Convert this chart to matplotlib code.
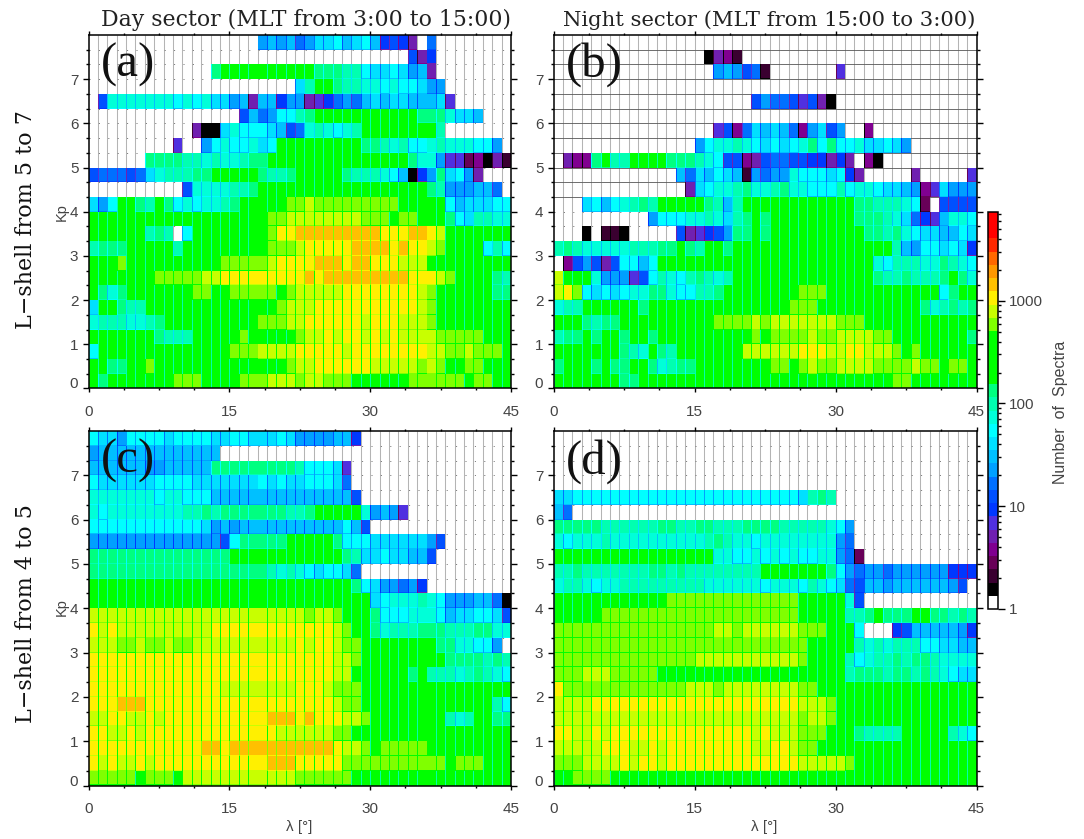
import numpy as np
import matplotlib
matplotlib.use('Agg')
import matplotlib.pyplot as plt
import matplotlib.colors as mcolors
from matplotlib.transforms import ScaledTranslation

W, H = 1084, 839
sans = 'Liberation Sans'
E = '00000 00000 00000 00000 00000 00000 00000 00000 00000'

# colour band of each cell, top row (Kp 7.67-8) first, one character per degree of latitude
bands = '0123456789abcdefghijklmnopqrstuv'

panel_a = [
    '00000 00000 00000 000ab ab9ac cdbcd b7875 09000 00000',
    '00000 00000 00000 00000 00000 00000 00008 57000 00000',
    '00000 00000 000gi iiiii iiiig ggffd ccdca b5000 00000',
    '00000 00000 00000 00000 00cfi igffe ededd caa00 00000',
    '08eee eeeed edecc ab5bb 7aa56 79a9b cbccb bbc60 00000',
    '00000 00000 00000 08b9a ddfgi iiiii iiiii gggec cb000',
    '00000 00000 0511c edddc b89ef edefi iiiii iif00 00000',
    '00000 00006 00ade ddecd iiiii iiiig gfefd defee edda0',
    '00000 0gggg ffefe efggi iiiii iiiii iiiig eea66 34152',
    '89998 9ceff fggii iiigf fgiii iigff fedb1 7agcd a5000',
    '00000 00000 8eeee ffgii iiiii iiiii iiiii igfaa abb90',
    'cadii gfigd edeef giiii illml lllll lllii iiidb cccdd',
    'iiiii iiiii iiiii iiiil lmmmm mmmml llill iiigd cffee',
    'iiiii ifgf0 diiii iiiil nnooo ooooo onnno onmii iiiii',
    'fgggi iiiif iiiii iiiil llmnn nnnoo oonon nmlii iidfd',
    'iiili iiiii iiiil llllm nnnno oonoo nnnmm miiii iiiii',
    'iiiii iilll llmmn nnnnn nnnon ooooo oooon nnmli iiigf',
    'igegi iiiii illii lllll ilmmm mmnnn nnnnn mliii iiigg',
    'ciigf fiiii iiiii iiiii lmmmn nnnnn nnnnn mliii iiiii',
    'efffe efgii iiiii iiill lmmnn nnnnm nnnmm mliii iiiii',
    'iiiii iigff fiiii iliii iilmm nmnnm nmnmm mmlll lliii',
    'diiii iiiii iiiii lllmm mmnnn nnmnn nnnnn nmmll mllli',
    'iiggi iliii iiiii iiiii ilmmn nnnnn mmmmm lmlii lliii',
    'igiii iiiil lliii illlm mmlmm lllii iiiil lllll illii',
]

panel_b = [
    E,
    '00000 00000 00000 01542 00000 00000 00000 00000 00000',
    '00000 00000 00000 00aba 89200 00000 60000 00000 00000',
    E,
    '00000 00000 00000 00000 08a99 86851 00000 00000 00000',
    E,
    '00000 00000 00000 00684 9cbcb 94ac8 a0040 00000 00000',
    '00000 00000 00000 adeef edcdc degdg ddecc dca00 00000',
    '0544g hffii iiggg fed88 45899 88775 75041 00000 00000',
    '00000 00000 000b9 cbdcb 2a9aa edddc d7500 00050 00006',
    '00000 00000 00005 cdeef geefg eeddd fdeed ccba4 6caaa',
    '000cd bdefg fiiii igfbf iiiii iiiii iiggf ffed3 08888',
    '00000 00000 addde efecf gigii iiiii iiggg fec97 6beed',
    '00010 22100 00085 678ag gigii iiiii iiigg fgedc cbbdc',
    'fgfee eeeff fggig fiigi iiiii iiiii iiiii ifbad dcdc7',
    '048a8 58ddb diiii iiiii iiiii iiiii iiiie dfffe egfed',
    'miiie aaa68 dfedf gfefi iiiii iiiii iiiig ffgff fgige',
    'mnldc dcdee ggedd ffgii iiiii illli iiiii iiiii idgii',
    'effii iiiig iiiii iiiii iiiii lllii iiiii iiiig efgfg',
    'iiigf ggiii iiiii iilll lmlmm mmmmm lllii iiiii iiiii',
    'fggig iigii giiii iiiii ilill llmll mmmml liiii iiiig',
    'iiiii iigfe igfii iiiii mmmmm mnnnm mnnmm mlili iiiii',
    'giiig iggii gefgg iiiii iiill ilmll mmmml lllml lilli',
    'iiiii iiggi iiiii iiiii iiiii iiiii iiiii illii iiiii',
]

panel_c = [
    'dccad dddcd dddcc ddccc dcaaa abb70 00000 00000 00000',
    'abbbb bbbbb bbbb0 00000 00000 00000 00000 00000 00000',
    'bbbbb baabb bbbgg ggggg ggfdd dc600 00000 00000 00000',
    'dcccc ccddd dcccc cccdc dccdd dc900 00000 00000 00000',
    'eeeee eedee dddbb bbbbb bbbbb bbb80 00000 00000 00000',
    'edeee eeeee ffgfg ggggg gffgi iiiie aba60 00000 00000',
    'ddddd ddddd ddcab abbbb bbbbb bbdb8 00000 00000 00000',
    'aaaaa aaaaa aaaa8 dgggg giiii igddd ccccc ca800 00000',
    'ggggg ggggg ggggg iiiii iiiii iigfc cdccb b8000 00000',
    'ggggg ggggg ggggg ggggf efedc ddc90 00000 00000 00000',
    'iiiii iiiii iiiii iiiii iiiii iiigd caa9a 70000 00000',
    'iiiii iiiii iiiii iiiii iiiii iiiii cdeee fedaa abb91',
    'mmmmm mmmmm mmmmm mmmmm mmmlm mliii gddde eedbc cddc8',
    'nmnmm mmmmm mmmnn nnnnn nnnnn nmlii gefff gggff fggee',
    'mmmll mllml lmmmm mmmmm mmnmn nmlli iiiii iigge edda0',
    'nnnnn nnnnn nnnnn nnnnn nnnnn nmmli iiiii iiigg ggfgf',
    'nnnnn nnnnn nnnnn nnnnn nnnnn nmmii iiiig ifffe fgfed',
    'nnnnn nnnnn nnnnm mmmmm mmnnn mllli iiiii iiiii iiiii',
    'nnnoo onnnn nnnnn nnnnn nnnnn nmlli iiiii iiiii iiifd',
    'mmnnm mnmnn nnnnn nnnno oonon nnmml iiiii iiife fiigg',
    'nnmmn mnnnn nnnnn nnnnn mmmmm mllii iiiii iiiii iiiii',
    'nnnnn nnnnn nnoon ooooo ooooo onmml illll liiii iiiii',
    'nmnmm nmnnn nnnnn nnnno oonnn nnlll lllll lllil lliii',
    'lllll illli mmmmm mmmmm mmlll lllii iiiii iiiii iiiii',
]

panel_d = [
    E,
    E,
    E,
    E,
    'ccddd ddddd ddddd ddddd ddddd dcfgf 00000 00000 00000',
    'b9000 00000 00000 00000 00000 00000 00000 00000 00000',
    'ggggg fffff fggff ggfff ggggf ffffe da000 00000 00000',
    'edeee feeee eeeee efgfe edeee eeeee a9000 00000 00000',
    'iiiii iiiii iiiii iieed deded eddee a9300 00000 00000',
    'ffgff fffff ggfgf fffff ffiii iiiig da9aa 9aaaa aa777',
    'effed eefff fffff feeee eedee edfed c98bb abbbb bba80',
    'iiiii iiiii iilll lllll lllll liiii ie800 00000 00000',
    'iiiii lllll lllll lllll lllll liiii iffgi gggii ggfgf',
    'lllll lllll lllll llmml mmmmm mllli iid00 078bb bbba7',
    'lllll lllll lllll lllll lllll lliii iifef efffd dccbb',
    'lllll lllll lllll mmmmm mmmmm mliii ifdef fgfgg feeee',
    'lllmm mllll liiii iiiii iiiii iiiii ifggg fggfg fedcc',
    'nllll lllll llllm mmlmm mmmmm mllii iiiii iiiii iiiii',
    'mmmmn nnnnn nnnnn nnnnn nnnnn nmmml iiiii iiiii iiiii',
    'mmmmm mmmmm mmmmm mmmmm mmmmm mlmml iiiii iiiii iiiii',
    'nnmmn mnnnn nnnnn nnnnn nmnmm mllli iigff ffiii iifed',
    'mmmmm nnnmm nmnnn nnnnn nmmnn mllii iiiii iiiii iiiii',
    'lllmm mmnmn nmnnn nnnnn nnnnn nmmmm mliii iiiii iiiii',
    'iilll liiii iiiii iiiii iiiii iiiii iiiii iiiii iiiii',
]

band_colors = ['#ffffff', '#000000', '#3a0030', '#680058', '#800090', '#7020b0',
               '#5030e0', '#0038ff', '#0050ff', '#0070ff', '#00a0ff', '#00c0ff',
               '#00e0ff', '#00ffff', '#00ffd8', '#00ffb0', '#00ff80', '#00ff00',
               '#00ff00', '#00ff00', '#00ff00', '#80ff00', '#c8ff00', '#fff000',
               '#ffc000', '#ff9800', '#ff6800', '#ff2800', '#ff0000', '#ff0000']

count_max = 7300.
n_bands = len(band_colors)
dex = np.log10(count_max) / n_bands
cmap = mcolors.ListedColormap(band_colors)
norm = mcolors.LogNorm(vmin=1., vmax=count_max)


def to_counts(rows):
    """Band characters -> number of spectra at the middle of the band (Kp increasing upward)."""
    out = np.zeros((24, 45))
    for j, row in enumerate(rows[::-1]):
        row = row.replace(' ', '').ljust(45, '0')[:45]
        for i, ch in enumerate(row):
            out[j, i] = 10 ** ((bands.index(ch) + 0.5) * dex)
    return out


def box(px0, py0, px1, py1):
    return [px0 / W, 1 - py1 / H, (px1 - px0) / W, (py1 - py0) / H]


def draw_panel(ax, counts, letter, solid_rows=False):
    # faint latitude/Kp grid behind the cells
    kp_lines = np.arange(1, 24) / 3.
    ax.vlines(np.arange(1, 45), 0, 8, color='#b4b4b4', lw=0.75, zorder=1)
    if solid_rows:
        ax.hlines(kp_lines[kp_lines > 4], 0, 45, color='#555555', lw=0.6, zorder=1)
    ax.hlines(kp_lines, 0, 45, color='#777777', lw=0.72, linestyles=[(0, (1, 8.4))], zorder=1)

    # each cell has a one pixel seam on its left/bottom, in a lower colour band
    seam_x, seam_y = 0.1064, 0.0226
    xe = np.sort(np.r_[np.arange(45), np.arange(45) + seam_x, 45.])
    ye = np.sort(np.r_[np.arange(24) / 3., np.arange(24) / 3. + seam_y, 8.])
    z = np.repeat(np.repeat(counts, 2, axis=0), 2, axis=1)
    lo = 10 ** (1.5 * dex)
    vert = np.maximum(counts / 10 ** (3 * dex), lo)
    horz = np.maximum(counts / 10 ** (1.5 * dex), lo)
    z[:, ::2] = np.repeat(vert, 2, axis=0)
    z[::2, 1::2] = horz
    empty = np.repeat(np.repeat(counts < 10 ** dex, 2, axis=0), 2, axis=1)
    ax.pcolormesh(xe, ye, np.ma.masked_where(empty, z), cmap=cmap, norm=norm,
                  antialiased=False, linewidth=0, zorder=2)

    ax.set_xlim(0, 45)
    ax.set_ylim(0, 8)
    ax.set_xticks([0, 15, 30, 45])
    ax.set_xticks(np.arange(0, 45.1, 3.75), minor=True)
    ax.set_yticks(np.arange(0, 8))
    ax.set_yticks(np.arange(0, 24) / 3., minor=True)
    ax.tick_params(which='major', axis='y', direction='out', length=4.3, width=1, right=True,
                   pad=3, labelsize=11, labelcolor='#444444', labelfontfamily=sans)
    ax.tick_params(which='minor', axis='y', direction='out', length=2, width=1, right=True)
    ax.tick_params(which='major', axis='x', direction='out', length=3, width=1, top=True,
                   pad=9, labelsize=11, labelcolor='#444444', labelfontfamily=sans)
    ax.tick_params(which='minor', axis='x', direction='out', length=1.5, width=1, top=True)
    # the 0 label sits a little above its tick
    zero = ax.get_yticklabels()[0]
    zero.set_transform(zero.get_transform() + ScaledTranslation(0, 0.055, ax.figure.dpi_scale_trans))
    for sp in ax.spines.values():
        sp.set_linewidth(1.1)
        sp.set_zorder(5)
    ax.text(0.03, 0.915, letter, transform=ax.transAxes, family='Liberation Serif',
            fontsize=35, ha='left', va='center', color='#111111', zorder=6)


fig = plt.figure(figsize=(W / 100, H / 100), dpi=100)
ax_a = fig.add_axes(box(88.5, 35, 511, 388.5))
ax_b = fig.add_axes(box(553.5, 35, 976.5, 388.5))
ax_c = fig.add_axes(box(88.5, 431, 511, 785.5))
ax_d = fig.add_axes(box(553.5, 431, 976.5, 785.5))

draw_panel(ax_a, to_counts(panel_a), '(a)')
draw_panel(ax_b, to_counts(panel_b), '(b)', solid_rows=True)
draw_panel(ax_c, to_counts(panel_c), '(c)')
draw_panel(ax_d, to_counts(panel_d), '(d)')


def fig_text(px, py, s, **kw):
    fig.text(px / W, 1 - py / H, s, ha='center', va='center', **kw)


fig_text(306, 20, 'Day sector (MLT from 3:00 to 15:00)', family='DejaVu Serif',
         fontsize=15.8, color='#222222')
fig_text(769, 20, 'Night sector (MLT from 15:00 to 3:00)', family='DejaVu Serif',
         fontsize=15.2, color='#222222')
fig_text(26, 220, 'L\u2212shell from 5 to 7', family='DejaVu Serif', fontsize=16, rotation=90, color='#111111')
fig_text(26, 614, 'L\u2212shell from 4 to 5', family='DejaVu Serif', fontsize=16, rotation=90, color='#111111')
fig_text(62, 212, 'Kp', family=sans, fontsize=10.5, rotation=90, color='#444444')
fig_text(62, 607, 'Kp', family=sans, fontsize=10.5, rotation=90, color='#444444')
fig_text(299, 827, '\u03bb [\u00b0]', family=sans, fontsize=11, color='#444444')
fig_text(764, 827, '\u03bb [\u00b0]', family=sans, fontsize=11, color='#444444')

# colour bar
cax = fig.add_axes(box(987.5, 212, 997.5, 609))
sm = plt.cm.ScalarMappable(norm=norm, cmap=cmap)
cb = fig.colorbar(sm, cax=cax)
cb.set_ticks([1, 10, 100, 1000])
cb.set_ticklabels(['1', '10', '100', '1000'])
cb.ax.tick_params(which='major', length=5, width=1, pad=3, labelsize=11, labelcolor='#444444',
                  labelfontfamily=sans)
cb.ax.tick_params(which='minor', length=2.4, width=1)
cb.outline.set_linewidth(1.1)
fig_text(1061, 412, 'Number  of  Spectra', family=sans, fontsize=11.5, rotation=90, color='#444444')

plt.savefig('out.png', dpi=100)
